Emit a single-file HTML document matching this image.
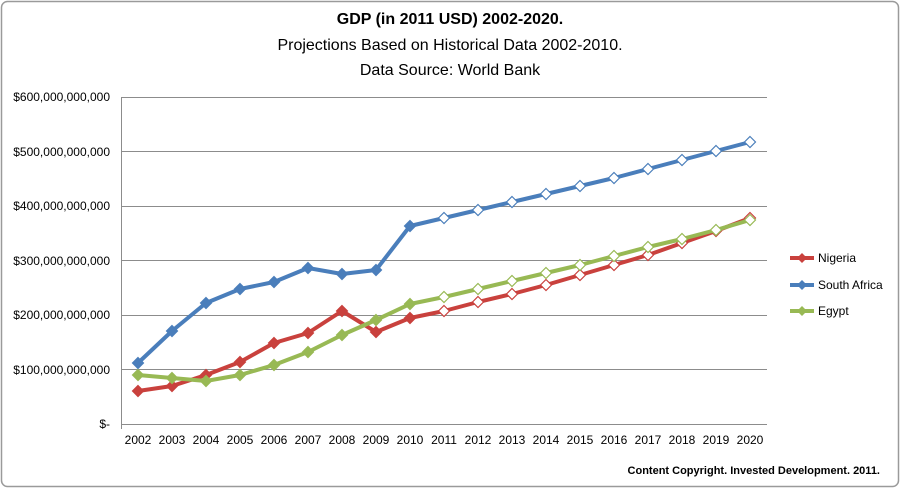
<!DOCTYPE html>
<html><head><meta charset="utf-8"><style>
body{margin:0;background:#fff;}
svg{display:block;font-family:"Liberation Sans",sans-serif;}
</style></head><body>
<svg width="900" height="488" viewBox="0 0 900 488" xmlns="http://www.w3.org/2000/svg">
<rect x="1.5" y="1.5" width="897" height="485" rx="6" fill="#fff" stroke="#9a9a9a" stroke-width="1.5"/>
<text x="450" y="24" text-anchor="middle" font-size="16" font-weight="bold">GDP (in 2011 USD) 2002-2020.</text>
<text x="450" y="50" text-anchor="middle" font-size="16">Projections Based on Historical Data 2002-2010.</text>
<text x="450" y="75" text-anchor="middle" font-size="16">Data Source: World Bank</text>
<g stroke="#8c8c8c" stroke-width="1">
<line x1="121" y1="97.5" x2="767" y2="97.5"/>
<line x1="121" y1="151.5" x2="767" y2="151.5"/>
<line x1="121" y1="206.5" x2="767" y2="206.5"/>
<line x1="121" y1="260.5" x2="767" y2="260.5"/>
<line x1="121" y1="315.5" x2="767" y2="315.5"/>
<line x1="121" y1="369.5" x2="767" y2="369.5"/>
<line x1="121" y1="424.5" x2="767" y2="424.5"/>
<line x1="121.5" y1="97" x2="121.5" y2="429"/>
</g>
<g font-size="12" text-anchor="end">
<text x="110" y="101">$600,000,000,000</text>
<text x="110" y="156">$500,000,000,000</text>
<text x="110" y="210">$400,000,000,000</text>
<text x="110" y="265">$300,000,000,000</text>
<text x="110" y="319">$200,000,000,000</text>
<text x="110" y="374">$100,000,000,000</text>
<text x="110" y="428">$-</text>
</g>
<g id="xl" font-size="12" text-anchor="middle"></g>
<g id="series"></g>
<g font-size="12">
<line x1="790" y1="258" x2="814" y2="258" stroke="#c9413d" stroke-width="4"/>
<path d="M802 253 L807 258 L802 263 L797 258Z" fill="#c9413d"/>
<text x="818" y="262">Nigeria</text>
<line x1="790" y1="285" x2="814" y2="285" stroke="#4a7ebb" stroke-width="4"/>
<path d="M802 280 L807 285 L802 290 L797 285Z" fill="#4a7ebb"/>
<text x="818" y="289">South Africa</text>
<line x1="790" y1="311" x2="814" y2="311" stroke="#98b954" stroke-width="4"/>
<path d="M802 306 L807 311 L802 316 L797 311Z" fill="#98b954"/>
<text x="818" y="315">Egypt</text>
</g>
<text x="880" y="474" text-anchor="end" font-size="11" font-weight="bold">Content Copyright. Invested Development. 2011.</text>
<script>
var ns="http://www.w3.org/2000/svg";
var xl=document.getElementById('xl');
for(var i=0;i<19;i++){var t=document.createElementNS(ns,'text');t.setAttribute('x',138+i*34);t.setAttribute('y',444);t.textContent=2002+i;xl.appendChild(t);}
var S=[
["#c9413d",[391,386,375,362,343,333,311,332,318,311,302,294,285,275,265,255,243,231,218]],
["#98b954",[375,378,381,375,365,352,335,320,304,297,289,281,273,265,256,247,239,230,220]],
["#4a7ebb",[363,331,303,289,282,268,274,270,226,218,210,202,194,186,178,169,160,151,142]]
];
var g=document.getElementById('series');
S.forEach(function(s){
 var p=document.createElementNS(ns,'polyline');
 p.setAttribute('points',s[1].map(function(y,i){return (138+i*34)+','+y}).join(' '));
 p.setAttribute('fill','none');p.setAttribute('stroke',s[0]);p.setAttribute('stroke-width','4');p.setAttribute('stroke-linejoin','round');
 g.appendChild(p);
 s[1].forEach(function(y,i){var x=138+i*34;var d=document.createElementNS(ns,'path');
  d.setAttribute('d','M'+x+' '+(y-5.5)+' L'+(x+5.5)+' '+y+' L'+x+' '+(y+5.5)+' L'+(x-5.5)+' '+y+'Z');
  d.setAttribute('fill',i<9?s[0]:'#fff');d.setAttribute('stroke',s[0]);d.setAttribute('stroke-width','1.2');g.appendChild(d);});
});
</script>
</svg>
</body></html>
